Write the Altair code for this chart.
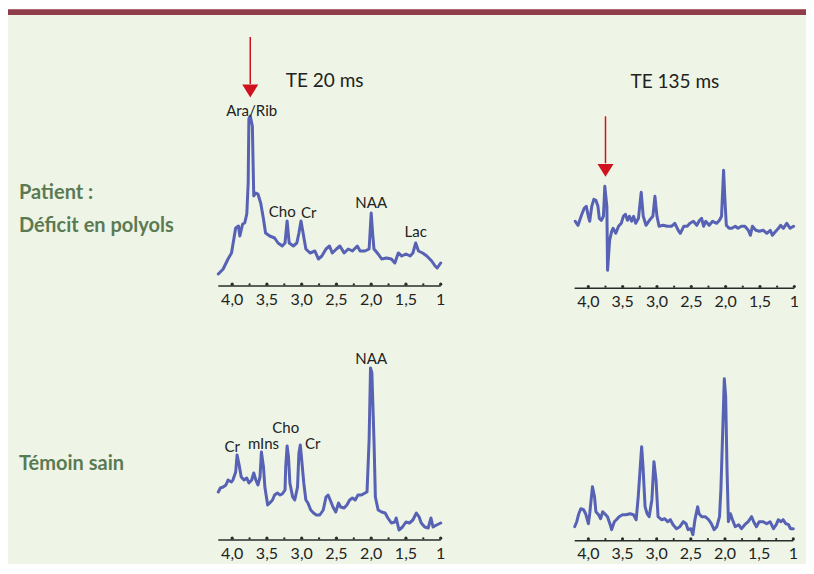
import altair as alt
import pandas as pd

# ---------------- data (chemical shift in ppm, signal in arbitrary units) ----------------
TL_PPM = [4.20,4.13,4.06,4.01,3.95,3.91,3.89,3.85,3.82,3.79,3.77,3.76,3.74,3.71,3.69,3.66,3.63,3.59,3.55,3.52,
          3.46,3.39,3.34,3.28,3.24,3.21,3.18,3.12,3.07,3.04,3.01,2.98,2.94,2.88,2.81,2.76,2.71,2.65,2.60,2.56,
          2.50,2.45,2.39,2.33,2.27,2.20,2.16,2.09,2.03,2.00,1.98,1.96,1.90,1.85,1.78,1.71,1.66,1.61,1.56,1.50,
          1.44,1.40,1.36,1.32,1.26,1.20,1.13,1.08,1.05,1.00]
TL_INT = [12,17,27,33,58,60,50,62,63,72,103,167,170,160,90,93,92,83,67,53,
          50,48,43,40,43,65,43,40,43,53,65,53,37,33,35,27,30,37,40,33,
          37,40,33,37,35,40,35,35,37,73,53,37,32,27,28,27,23,33,30,32,
          30,33,43,35,33,30,25,20,18,23]

TR_PPM = [4.19,4.15,4.10,4.06,4.03,4.00,3.98,3.95,3.92,3.89,3.86,3.84,3.81,3.78,3.76,3.73,3.72,3.69,3.66,3.64,
          3.60,3.56,3.52,3.49,3.46,3.43,3.40,3.37,3.34,3.31,3.27,3.23,3.20,3.16,3.11,3.06,3.03,3.00,2.97,2.91,
          2.85,2.79,2.74,2.69,2.66,2.61,2.56,2.52,2.47,2.42,2.38,2.35,2.32,2.29,2.24,2.19,2.13,2.09,2.06,2.03,
          2.01,1.99,1.95,1.91,1.86,1.82,1.77,1.72,1.67,1.64,1.61,1.56,1.51,1.45,1.40,1.35,1.32,1.27,1.23,1.20,
          1.16,1.11,1.06,1.01]
TR_INT = [67,63,73,80,82,72,67,82,89,88,82,70,68,72,102,82,18,48,57,60,
          55,62,65,72,74,68,72,67,72,65,70,96,72,63,68,72,92,72,62,63,
          62,62,65,58,55,62,62,65,67,63,68,70,62,67,63,67,65,68,72,118,
          88,63,60,60,62,60,62,62,58,53,62,58,57,58,55,58,53,57,60,63,
          60,65,60,62]

BL_PPM = [4.20,4.17,4.13,4.09,4.06,4.01,3.99,3.95,3.93,3.90,3.87,3.83,3.79,3.76,3.72,3.69,3.66,3.63,3.60,3.58,
          3.55,3.53,3.49,3.46,3.42,3.39,3.35,3.31,3.28,3.24,3.23,3.21,3.19,3.17,3.13,3.10,3.06,3.04,3.02,3.00,
          2.97,2.94,2.91,2.87,2.83,2.79,2.74,2.69,2.65,2.62,2.59,2.55,2.51,2.47,2.44,2.39,2.35,2.31,2.27,2.23,
          2.19,2.14,2.09,2.06,2.03,2.01,1.99,1.96,1.94,1.90,1.85,1.80,1.76,1.71,1.66,1.64,1.60,1.55,1.50,1.45,
          1.40,1.35,1.31,1.28,1.23,1.18,1.14,1.11,1.06,1.00]
BL_INT = [48,52,53,55,60,58,60,68,85,75,63,60,62,57,60,67,60,55,63,88,
          73,53,35,37,40,45,47,45,46,50,73,94,83,57,43,40,53,87,95,80,
          57,40,37,30,27,25,25,30,43,45,40,33,28,37,33,32,35,40,42,40,
          45,45,47,48,100,172,167,100,43,30,28,27,22,17,18,22,10,13,18,17,
          20,27,23,17,13,12,22,13,15,17]

BR_PPM = [4.20,4.17,4.14,4.11,4.07,4.04,4.00,3.98,3.94,3.91,3.89,3.85,3.82,3.79,3.76,3.72,3.68,3.66,3.62,3.59,
          3.55,3.50,3.45,3.39,3.34,3.30,3.27,3.24,3.22,3.20,3.17,3.14,3.11,3.07,3.04,3.01,2.98,2.93,2.88,2.84,
          2.80,2.76,2.71,2.66,2.61,2.57,2.54,2.50,2.47,2.44,2.40,2.38,2.34,2.29,2.24,2.20,2.16,2.12,2.08,2.06,
          2.03,2.01,1.99,1.97,1.95,1.92,1.89,1.85,1.80,1.76,1.71,1.66,1.61,1.58,1.54,1.50,1.44,1.39,1.34,1.29,
          1.25,1.22,1.18,1.15,1.11,1.07,1.04,1.00]
BR_INT = [14,19,27,32,31,27,17,27,54,44,29,26,22,29,27,24,16,11,19,21,
          24,26,26,27,26,21,44,74,94,74,34,27,24,41,79,61,24,21,22,19,
          21,16,12,14,19,17,11,12,6,21,34,27,24,24,21,17,11,14,24,51,
          117,162,144,71,19,27,21,14,16,12,16,19,24,19,14,19,19,17,19,12,
          16,21,19,21,17,16,12,12]

AXIS_SPAN = [4.2, 1.0]
MINOR_TICKS = [3.75, 3.25, 2.75, 2.25, 1.75, 1.25]
MAJOR_TICKS = [4.0, 3.5, 3.0, 2.5, 2.0, 1.5, 1.0]
TICK_LABELS = ["4,0", "3,5", "3,0", "2,5", "2,0", "1,5", "1"]

TL_NOTES = {"txt": ["Ara/Rib", "Cho", "Cr", "NAA", "Lac"],
            "x": [3.72, 3.28, 2.90, 2.00, 1.36], "y": [175, 74, 73, 83, 54]}
BL_NOTES = {"txt": ["NAA", "Cho", "mIns", "Cr", "Cr"],
            "x": [2.00, 3.23, 3.55, 4.00, 2.84], "y": [181, 112, 96, 93, 96]}
TITLES = ["TE 20 ms", "TE 135 ms"]
TITLE_POS = {"x": [2.67, 2.74], "y": [205, 206]}
ARROWS = {"x": [3.74, 3.75], "top": [249, 172], "bot": [202, 125], "head": [195, 118]}
ROW_LABELS = ["Patient :", "Déficit en polyols", "Témoin sain"]

# ---------------- styling ----------------
BG = "#eef5e6"
BAR = "#8f3d4a"
LINE = "#5862b4"
RED = "#d0121f"
AXC = "#2b2b2b"
GREEN_TXT = "#5b7a52"
FONT = "Lato"
TRI = "M-1,-0.8L1,-0.8L0,0.8Z"

W, H = 798, 556


def panel(ppm, inten, xr, y0, notes=None, title=None, arrow=None):
    xs = alt.Scale(domain=AXIS_SPAN, range=xr, zero=False, nice=False)
    ys = alt.Scale(domain=[0, 200], range=[y0, y0 - 200], zero=False, nice=False)

    def ex(f):
        return alt.X(f, type="quantitative", scale=xs, axis=None)

    def ey(f):
        return alt.Y(f, type="quantitative", scale=ys, axis=None)

    spec = pd.DataFrame({"ppm": ppm, "h": inten, "i": list(range(len(ppm)))})
    layers = []
    layers.append(
        alt.Chart(pd.DataFrame({"a": [AXIS_SPAN[0]], "b": [AXIS_SPAN[1]], "y": [0]}))
        .mark_rule(color=AXC, strokeWidth=1.6)
        .encode(x=ex("a"), x2="b", y=ey("y"))
    )
    layers.append(
        alt.Chart(pd.DataFrame({"t": MINOR_TICKS, "y": [1.6] * len(MINOR_TICKS)}))
        .mark_point(filled=True, shape="circle", size=5, color=AXC, opacity=1)
        .encode(x=ex("t"), y=ey("y"))
    )
    layers.append(
        alt.Chart(pd.DataFrame({"t": MAJOR_TICKS, "y": [1.8] * len(MAJOR_TICKS)}))
        .mark_point(filled=True, shape="circle", size=10, color=AXC, opacity=1)
        .encode(x=ex("t"), y=ey("y"))
    )
    layers.append(
        alt.Chart(pd.DataFrame({"t": MAJOR_TICKS, "lab": TICK_LABELS, "y": [0] * len(MAJOR_TICKS)}))
        .mark_text(font=FONT, fontSize=16, color="#222222", baseline="middle", dy=13.5)
        .encode(x=ex("t"), y=ey("y"), text="lab:N")
    )
    layers.append(
        alt.Chart(spec)
        .mark_line(color=LINE, strokeWidth=3, strokeJoin="round", strokeCap="round")
        .encode(x=ex("ppm"), y=ey("h"), order="i:Q")
    )
    if notes is not None:
        layers.append(
            alt.Chart(pd.DataFrame(notes))
            .mark_text(font=FONT, fontSize=15, color="#222222", baseline="middle")
            .encode(x=ex("x"), y=ey("y"), text="txt:N")
        )
    if title is not None:
        layers.append(
            alt.Chart(pd.DataFrame(title))
            .mark_text(font=FONT, fontSize=19, color="#222222", baseline="middle")
            .encode(x=ex("x"), y=ey("y"), text="txt:N")
        )
    if arrow is not None:
        adf = pd.DataFrame(arrow)
        layers.append(
            alt.Chart(adf).mark_rule(color=RED, strokeWidth=1.5)
            .encode(x=ex("x"), y=ey("top"), y2="bot")
        )
        layers.append(
            alt.Chart(adf).mark_point(shape=TRI, filled=True, size=256, color=RED, opacity=1, strokeWidth=0)
            .encode(x=ex("x"), y=ey("head"))
        )
    return alt.layer(*layers)


one = pd.DataFrame({"k": [0]})
white_top = alt.Chart(one).mark_rect(color="white").encode(
    x=alt.value(0), x2=alt.value(W), y=alt.value(0), y2=alt.value(1.3))
bar = alt.Chart(one).mark_rect(color=BAR).encode(
    x=alt.value(0), x2=alt.value(W), y=alt.value(1.3), y2=alt.value(7))


def row_label(txt, ypix):
    return alt.Chart(pd.DataFrame({"txt": [txt]})).mark_text(
        font=FONT, fontSize=20, fontWeight="bold", color=GREEN_TXT, align="left", baseline="middle"
    ).encode(x=alt.value(11), y=alt.value(ypix), text="txt:N")


row1 = row_label(ROW_LABELS[0], 185)
row2 = row_label(ROW_LABELS[1], 218)
row3 = row_label(ROW_LABELS[2], 456)

tl = panel(TL_PPM, TL_INT, [210.3, 432.7], 278, notes=TL_NOTES,
           title={"txt": [TITLES[0]], "x": [TITLE_POS["x"][0]], "y": [TITLE_POS["y"][0]]},
           arrow={k: [v[0]] for k, v in ARROWS.items()})
tr = panel(TR_PPM, TR_INT, [566.6, 786.3], 280.3,
           title={"txt": [TITLES[1]], "x": [TITLE_POS["x"][1]], "y": [TITLE_POS["y"][1]]},
           arrow={k: [v[1]] for k, v in ARROWS.items()})
bl = panel(BL_PPM, BL_INT, [210.3, 432.7], 532, notes=BL_NOTES)
br = panel(BR_PPM, BR_INT, [566.7, 785.3], 532.7)

chart = alt.layer(white_top, bar, row1, row2, row3, tl, tr, bl, br).resolve_scale(
    x="independent", y="independent"
).properties(
    width=W, height=H, background=BG, padding=0,
    autosize=alt.AutoSizeParams(type="none")
).configure_view(stroke=None)

chart.save("out.html", embed_options={"renderer": "svg", "actions": False})
